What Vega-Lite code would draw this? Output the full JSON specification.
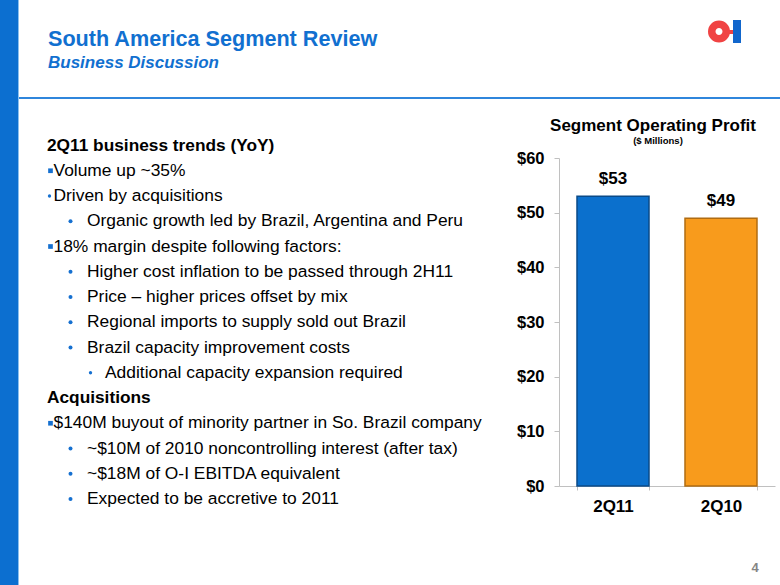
{
  "$schema": "https://vega.github.io/schema/vega-lite/v6.json",
  "width": 780,
  "height": 585,
  "padding": 0,
  "autosize": {"type": "none"},
  "background": "white",
  "config": {"view": {"stroke": null}, "font": "Liberation Sans"},
  "datasets": {
    "profit": [
      {"period": "2Q11", "profit": 53},
      {"period": "2Q10", "profit": 49}
    ],
    "lines": [
      {"line": 0, "text": "2Q11 business trends (YoY)", "style": "head", "indent": 0, "bullet": "none"},
      {"line": 1, "text": "Volume up ~35%", "style": "item", "indent": 0, "bullet": "square"},
      {"line": 2, "text": "Driven by acquisitions", "style": "item", "indent": 0, "bullet": "dot"},
      {"line": 3, "text": "Organic growth led by Brazil, Argentina and Peru", "style": "item", "indent": 1, "bullet": "dot"},
      {"line": 4, "text": "18% margin despite following factors:", "style": "item", "indent": 0, "bullet": "square"},
      {"line": 5, "text": "Higher cost inflation to be passed through 2H11", "style": "item", "indent": 1, "bullet": "dot"},
      {"line": 6, "text": "Price – higher prices offset by mix", "style": "item", "indent": 1, "bullet": "dot"},
      {"line": 7, "text": "Regional imports to supply sold out Brazil", "style": "item", "indent": 1, "bullet": "dot"},
      {"line": 8, "text": "Brazil capacity improvement costs", "style": "item", "indent": 1, "bullet": "dot"},
      {"line": 9, "text": "Additional capacity expansion required", "style": "item", "indent": 2, "bullet": "dot"},
      {"line": 10, "text": "Acquisitions", "style": "head", "indent": 0, "bullet": "none"},
      {"line": 11, "text": "$140M buyout of minority partner in So. Brazil company", "style": "item", "indent": 0, "bullet": "square"},
      {"line": 12, "text": "~$10M of 2010 noncontrolling interest (after tax)", "style": "item", "indent": 1, "bullet": "dot"},
      {"line": 13, "text": "~$18M of O-I EBITDA equivalent", "style": "item", "indent": 1, "bullet": "dot"},
      {"line": 14, "text": "Expected to be accretive to 2011", "style": "item", "indent": 1, "bullet": "dot"}
    ]
  },
  "layer": [
    {
      "data": {"values": [{}]},
      "mark": {"type": "rect", "color": "#0c6fd0"},
      "encoding": {"x": {"value": 0}, "x2": {"value": 18}, "y": {"value": 0}, "y2": {"value": 585}}
    },
    {
      "data": {"values": [{}]},
      "mark": {"type": "rule", "color": "#8cc0ee", "strokeWidth": 1},
      "encoding": {"x": {"value": 18.5}, "y": {"value": 0}, "y2": {"value": 585}}
    },
    {
      "data": {"values": [{}]},
      "mark": {"type": "rule", "color": "#2f86dc", "strokeWidth": 2},
      "encoding": {"x": {"value": 19}, "x2": {"value": 780}, "y": {"value": 98}}
    },
    {
      "data": {"values": [{"t": "South America Segment Review"}]},
      "mark": {"type": "text", "align": "left", "baseline": "alphabetic", "fontSize": 21.6, "fontWeight": "bold", "color": "#1170d0"},
      "encoding": {"x": {"value": 48}, "y": {"value": 46}, "text": {"field": "t"}}
    },
    {
      "data": {"values": [{"t": "Business Discussion"}]},
      "mark": {"type": "text", "align": "left", "baseline": "alphabetic", "fontSize": 17, "fontWeight": "bold", "fontStyle": "italic", "color": "#1170d0"},
      "encoding": {"x": {"value": 48}, "y": {"value": 68}, "text": {"field": "t"}}
    },
    {
      "data": {"values": [{}]},
      "mark": {"type": "point", "shape": "circle", "filled": false, "size": 210, "strokeWidth": 7.5, "color": "#f04343", "opacity": 1},
      "encoding": {"x": {"value": 719}, "y": {"value": 31.5}}
    },
    {
      "data": {"values": [{}]},
      "mark": {"type": "rect", "color": "#f04343"},
      "encoding": {"x": {"value": 726}, "x2": {"value": 733}, "y": {"value": 30}, "y2": {"value": 34}}
    },
    {
      "data": {"values": [{}]},
      "mark": {"type": "rect", "color": "#1166cc"},
      "encoding": {"x": {"value": 733}, "x2": {"value": 741}, "y": {"value": 20}, "y2": {"value": 43}}
    },
    {
      "data": {"values": [{"t": "4"}]},
      "mark": {"type": "text", "align": "center", "baseline": "middle", "fontSize": 13, "fontWeight": "bold", "color": "#858585"},
      "encoding": {"x": {"value": 755}, "y": {"value": 568}, "text": {"field": "t"}}
    },
    {
      "data": {"values": [{"t": "Segment Operating Profit"}]},
      "mark": {"type": "text", "align": "center", "baseline": "alphabetic", "fontSize": 17, "fontWeight": "bold", "color": "#000000"},
      "encoding": {"x": {"value": 653}, "y": {"value": 131}, "text": {"field": "t"}}
    },
    {
      "data": {"values": [{"t": "($ Millions)"}]},
      "mark": {"type": "text", "align": "center", "baseline": "alphabetic", "fontSize": 9.5, "fontWeight": "bold", "color": "#000000"},
      "encoding": {"x": {"value": 658}, "y": {"value": 144}, "text": {"field": "t"}}
    },
    {
      "data": {"name": "lines"},
      "encoding": {
        "y": {"field": "line", "type": "ordinal", "scale": {"type": "point", "domain": [0,1,2,3,4,5,6,7,8,9,10,11,12,13,14], "range": [145.5, 499], "padding": 0}, "axis": null},
        "x": {"field": "indent", "type": "quantitative", "scale": {"domain": [0, 2], "range": [48, 89], "zero": false, "nice": false}, "axis": null}
      },
      "layer": [
        {
          "transform": [{"filter": "datum.style === 'head'"}],
          "mark": {"type": "text", "align": "left", "baseline": "middle", "fontSize": 17.3, "fontWeight": "bold", "color": "#000000", "dx": -1},
          "encoding": {"text": {"field": "text"}}
        },
        {
          "transform": [{"filter": "datum.style === 'item' && datum.indent === 0"}],
          "mark": {"type": "text", "align": "left", "baseline": "middle", "fontSize": 17.4, "color": "#000000", "dx": 5.5},
          "encoding": {"text": {"field": "text"}}
        },
        {
          "transform": [{"filter": "datum.style === 'item' && datum.indent === 1"}],
          "mark": {"type": "text", "align": "left", "baseline": "middle", "fontSize": 17.4, "color": "#000000", "dx": 18.5},
          "encoding": {"text": {"field": "text"}}
        },
        {
          "transform": [{"filter": "datum.style === 'item' && datum.indent === 2"}],
          "mark": {"type": "text", "align": "left", "baseline": "middle", "fontSize": 17.4, "color": "#000000", "dx": 16},
          "encoding": {"text": {"field": "text"}}
        },
        {
          "transform": [{"filter": "datum.bullet === 'square'"}],
          "mark": {"type": "point", "shape": "square", "filled": true, "size": 22, "color": "#1570d0", "opacity": 1, "xOffset": 2.5},
          "encoding": {}
        },
        {
          "transform": [{"filter": "datum.bullet === 'dot' && datum.indent === 1"}],
          "mark": {"type": "point", "shape": "circle", "filled": true, "size": 16, "color": "#1570d0", "opacity": 1, "xOffset": 2},
          "encoding": {}
        },
        {
          "transform": [{"filter": "datum.bullet === 'dot' && datum.indent !== 1"}],
          "mark": {"type": "point", "shape": "circle", "filled": true, "size": 11, "color": "#1570d0", "opacity": 1, "xOffset": 1.5},
          "encoding": {}
        }
      ]
    },
    {
      "data": {"name": "profit"},
      "encoding": {
        "x": {
          "field": "period", "type": "nominal", "sort": ["2Q11", "2Q10"],
          "scale": {"type": "band", "range": [559, 775], "paddingInner": 0.3333, "paddingOuter": 0.1667},
          "axis": {"orient": "bottom", "offset": -99, "title": null, "labelAngle": 0, "labelFontSize": 17, "labelFontWeight": "bold", "labelColor": "#000000", "labelPadding": 8, "tickBand": "extent", "tickSize": 4, "tickColor": "#c0c0c0", "domainColor": "#c0c0c0", "grid": false}
        },
        "y": {
          "field": "profit", "type": "quantitative",
          "scale": {"domain": [0, 60], "range": [486, 158], "nice": false, "zero": true},
          "axis": {"orient": "left", "offset": -559, "title": null, "values": [0, 10, 20, 30, 40, 50, 60], "format": "$.0f", "grid": false, "labelFontSize": 16.5, "labelFontWeight": "bold", "labelColor": "#000000", "labelPadding": 10, "tickSize": 5, "tickColor": "#c0c0c0", "domainColor": "#c0c0c0"}
        }
      },
      "layer": [
        {
          "mark": {"type": "bar", "strokeWidth": 1.5},
          "encoding": {
            "color": {"field": "period", "type": "nominal", "scale": {"domain": ["2Q11", "2Q10"], "range": ["#0b70cd", "#f89b1c"]}, "legend": null},
            "stroke": {"field": "period", "type": "nominal", "scale": {"domain": ["2Q11", "2Q10"], "range": ["#0a4a88", "#b06c12"]}, "legend": null}
          }
        },
        {
          "mark": {"type": "text", "baseline": "bottom", "dy": -8, "fontSize": 17, "fontWeight": "bold", "color": "#000000"},
          "encoding": {"text": {"field": "profit", "type": "quantitative", "format": "$.0f"}}
        }
      ]
    }
  ],
  "resolve": {
    "scale": {"x": "independent", "y": "independent", "color": "independent", "stroke": "independent"},
    "axis": {"x": "independent", "y": "independent"}
  }
}
